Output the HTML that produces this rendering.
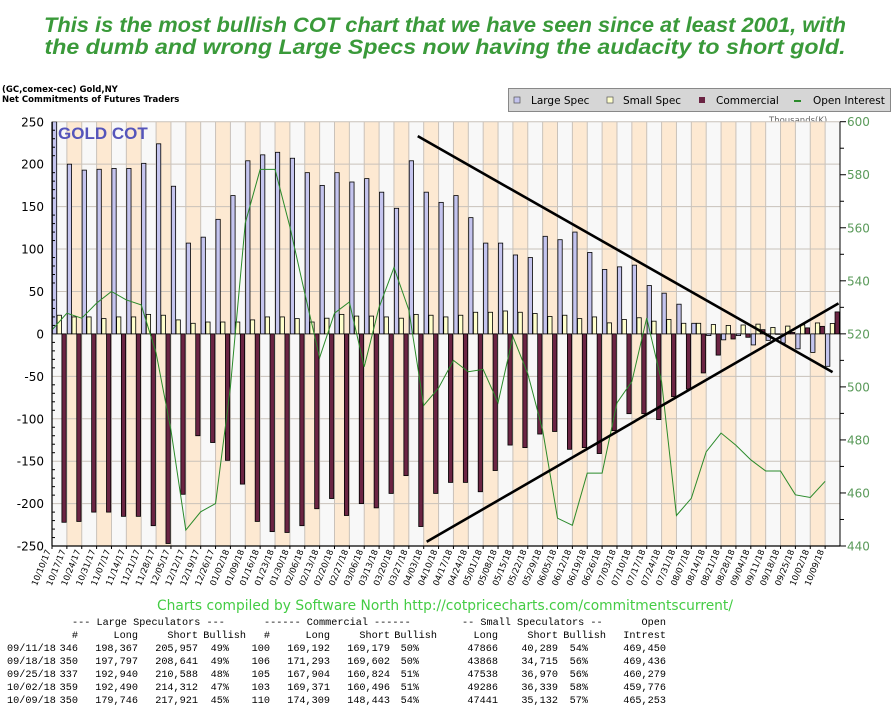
<!DOCTYPE html>
<html><head><meta charset="utf-8"><style>
body{margin:0;background:#fff;width:893px;height:719px;overflow:hidden;font-family:"Liberation Sans",sans-serif}
.t{position:absolute;font-family:"Liberation Mono",monospace;font-size:10.2px;color:#000;white-space:pre;line-height:12px}
</style></head><body>
<svg id="c" width="893" height="719" xmlns="http://www.w3.org/2000/svg" style="position:absolute;left:0;top:0">
<text x="445" y="32" text-anchor="middle" font-family="Liberation Sans, sans-serif" font-style="italic" font-weight="bold" font-size="21" fill="#3a9a3a" textLength="802" lengthAdjust="spacingAndGlyphs">This is the most bullish COT chart that we have seen since at least 2001, with</text>
<text x="445" y="54" text-anchor="middle" font-family="Liberation Sans, sans-serif" font-style="italic" font-weight="bold" font-size="21" fill="#3a9a3a" textLength="801" lengthAdjust="spacingAndGlyphs">the dumb and wrong Large Specs now having the audacity to short gold.</text>
<text x="2" y="92" font-family="DejaVu Sans, sans-serif" font-weight="bold" font-size="8.5">(GC,comex-cec) Gold,NY</text>
<text x="2" y="102" font-family="DejaVu Sans, sans-serif" font-weight="bold" font-size="8.5">Net Commitments of Futures Traders</text>
<g>
<rect x="508.5" y="88.5" width="382" height="23" fill="#d6d6d6" stroke="#888"/>
<rect x="514" y="97" width="6" height="6" fill="#c4c4ee" stroke="#555" stroke-width="0.7"/>
<text x="531" y="104" font-family="DejaVu Sans, sans-serif" font-size="10.5">Large Spec</text>
<rect x="607" y="97" width="6" height="6" fill="#ffffcc" stroke="#555" stroke-width="0.7"/>
<text x="623" y="104" font-family="DejaVu Sans, sans-serif" font-size="10.5">Small Spec</text>
<rect x="699" y="97" width="6" height="6" fill="#6b2443"/>
<text x="716" y="104" font-family="DejaVu Sans, sans-serif" font-size="10.5">Commercial</text>
<rect x="794" y="100" width="7" height="2" fill="#2a8a2a"/>
<text x="813" y="104" font-family="DejaVu Sans, sans-serif" font-size="10.5">Open Interest</text>
</g>
<text x="769" y="123" font-family="DejaVu Sans, sans-serif" font-size="8.5" fill="#666">Thousands(K)</text>
<g id="plot"></g>
<text x="445" y="610" text-anchor="middle" font-family="DejaVu Sans, sans-serif" font-size="14" fill="#44cc44" textLength="576" lengthAdjust="spacingAndGlyphs">Charts compiled by Software North  http://cotpricecharts.com/commitmentscurrent/</text>
</svg>
<div id="tbl"></div>
<script>
const dates=["10/10/17","10/17/17","10/24/17","10/31/17","11/07/17","11/14/17","11/21/17","11/28/17","12/05/17","12/12/17","12/19/17","12/26/17","01/02/18","01/09/18","01/16/18","01/23/18","01/30/18","02/06/18","02/13/18","02/20/18","02/27/18","03/06/18","03/13/18","03/20/18","03/27/18","04/03/18","04/10/18","04/17/18","04/24/18","05/01/18","05/08/18","05/15/18","05/22/18","05/29/18","06/05/18","06/12/18","06/19/18","06/26/18","07/03/18","07/10/18","07/17/18","07/24/18","07/31/18","08/07/18","08/14/18","08/21/18","08/28/18","09/04/18","09/11/18","09/18/18","09/25/18","10/02/18","10/09/18"];
const largeSpec=[250,200,193,194,195,195,201,224,174,107,114,135,163,204,211,214,207,190,175,190,179,183,167,148,204,167,155,163,137,107,107,93,90,115,111,120,96,76,79,81,57,48,35,12.5,-2,-7,-2,-13,-7.6,-10.8,-17.6,-21.8,-38.2];
const smallSpec=[22,20,20,18,20,20,23,22,16.5,12.5,14,14,14,16.5,20,20,18,14,18.5,23,21,21,20,18.5,23,22,20,22,25.5,25.5,27,25.5,24,20.5,22,18,20,13,17,19,15,17,12.5,12.5,11,10,10.5,11.5,7.6,9.2,10.6,12.9,12.3];
const commercial=[-222,-221,-210,-210,-215,-215,-226,-247,-189,-120,-128,-149,-177,-221,-233,-234,-226,-206,-194,-214,-200,-205,-188,-167,-227,-188,-175,-175,-186,-161,-131,-134,-118,-115,-136,-134,-141,-114,-94,-94,-101,-74,-65,-46,-25,-6,-4,5,0.1,1.7,7.1,8.9,25.9];
const openInterest=[521.5,527.8,525.9,531.6,536,532.8,530.9,512.8,483.7,446,452.9,456,500,561.8,582,582,560.4,535.3,511,527.8,532,507.6,530,545,529,493,499.6,510,505.7,506.6,494,519,505,483.7,450.5,447.8,467.5,467.5,494,502,526,502,451.5,458,475.5,482.6,478,472.5,468.3,468.3,459.3,458.3,464.4];
const leftTicks=[250,200,150,100,50,0,-50,-100,-150,-200,-250];
const rightTicks=[600,580,560,540,520,500,480,460,440];
const trend1=[[24.6,233],[52.5,-45]];
const trend2=[[25.2,-245],[52.9,36]];

const NS="http://www.w3.org/2000/svg";
const L=52,R=840,T=121.7,B=546;
const BW=(R-L)/dates.length;
const xs=i=>L+i*BW;
const yL=v=>333.9-v*(B-T)/500;
const yR=v=>B-(v-440)*(B-T)/160;
const plot=document.getElementById('plot');
function mk(tag,at,parent){const e=document.createElementNS(NS,tag);for(const k in at)e.setAttribute(k,at[k]);(parent||plot).appendChild(e);return e;}
const defs=mk('defs',{});const cp=mk('clipPath',{id:'pc'},defs);mk('rect',{x:L,y:T,width:R-L,height:B-T},cp);
const bg=mk('g',{});


dates.forEach((d,i)=>{
 const r=mk('rect',{x:xs(i),y:T,width:BW,height:B-T,fill:i%2?'#fde9d2':'#f8f8f8'},bg);
 
 
 mk('line',{x1:xs(i),x2:xs(i),y1:T,y2:B,stroke:'#c9c2ba','stroke-width':1},bg);
});
leftTicks.forEach(v=>{mk('line',{x1:L,x2:R,y1:yL(v),y2:yL(v),stroke:'#c9c2ba','stroke-width':1},bg);});
const bars=mk('g',{'clip-path':'url(#pc)'});
function bar(i,v,off,fill,name){
 const y0=yL(0),y1=yL(v);
 const r=mk('rect',{x:xs(i)+off,y:Math.min(y0,y1),width:4.3,height:Math.max(0.5,Math.abs(y1-y0)),fill:fill,stroke:'#000','stroke-width':0.8},bars);
 
 
}
dates.forEach((d,i)=>{
 bar(i,largeSpec[i],0.4,'#c4c4ee','bar-large-spec');
 bar(i,smallSpec[i],5.1,'#ffffcc','bar-small-spec');
 bar(i,commercial[i],9.9,'#6b2443','bar-commercial');
});
const oi=mk('polyline',{points:openInterest.map((v,i)=>xs(i)+','+yR(v)).join(' '),fill:'none',stroke:'#2a8a2a','stroke-width':1,'clip-path':'url(#pc)'});


[trend1,trend2].forEach((t,k)=>{
 const l=mk('line',{x1:xs(t[0][0]),y1:yL(t[0][1]),x2:xs(t[1][0]),y2:yL(t[1][1]),stroke:'#000','stroke-width':2.6});
 
 
});
const gc=mk('text',{x:58,y:139,'font-family':'Liberation Sans, sans-serif','font-weight':'bold','font-size':17,fill:'#5555bb'});
gc.textContent='GOLD COT';


// axes
mk('line',{x1:L,x2:L,y1:T,y2:B,stroke:'#000','stroke-width':1.2});
mk('line',{x1:L,x2:R,y1:B,y2:B,stroke:'#000','stroke-width':1.2});
mk('line',{x1:R,x2:R,y1:T,y2:B,stroke:'#000','stroke-width':1});
for(let v=-250;v<=250;v+=10){mk('line',{x1:L,x2:L+(v%50?3:0),y1:yL(v),y2:yL(v),stroke:'#000','stroke-width':1});}
leftTicks.forEach(v=>{
 const t=mk('text',{x:44,y:yL(v)+4.5,'text-anchor':'end','font-family':'DejaVu Sans, sans-serif','font-size':12});
 t.textContent=v;
 
 
});
for(let v=440;v<=600;v+=10){mk('line',{x1:R,x2:R+(v%20?4:6),y1:yR(v),y2:yR(v),stroke:'#000','stroke-width':1});}
rightTicks.forEach(v=>{
 const t=mk('text',{x:847,y:yR(v)+4.5,'font-family':'DejaVu Sans, sans-serif','font-size':12,fill:'#5a9a5a'});
 t.textContent=v;
 
 
});
dates.forEach((d,i)=>{
 mk('line',{x1:xs(i),x2:xs(i),y1:B,y2:B+3,stroke:'#000','stroke-width':1});
 const t=mk('text',{x:xs(i)-1,y:B+5,'text-anchor':'end','font-family':'DejaVu Sans, sans-serif','font-size':8.5,transform:`rotate(-68 ${xs(i)-1} ${B+5})`});
 t.textContent=d;
 
 
});
// table
const tbl=document.getElementById('tbl');
function put(txt,x,y,anchor){
 const e=document.createElement('div');e.className='t';e.textContent=txt;
 e.style.top=(y-6)+'px';
 if(anchor==='r'){e.style.right=(893-x)+'px';}else{e.style.left=x+'px';}
 
 
 tbl.appendChild(e);
}
put('--- Large Speculators ---',72,624);put('------ Commercial ------',264,624);put('-- Small Speculators --',462,624);put('Open',666,624,'r');
[['#',78],['Long',138],['Short',198],['Bullish',246],['#',270],['Long',330],['Short',390],['Bullish',437],['Long',498],['Short',558],['Bullish',606],['Intrest',666]].forEach(h=>put(h[0],h[1],637,'r'));
const rows=[["09/11/18","346","198,367","205,957","49%","100","169,192","169,179","50%","47866","40,289","54%","469,450"],
["09/18/18","350","197,797","208,641","49%","106","171,293","169,602","50%","43868","34,715","56%","469,436"],
["09/25/18","337","192,940","210,588","48%","105","167,904","160,824","51%","47538","36,970","56%","460,279"],
["10/02/18","359","192,490","214,312","47%","103","169,371","160,496","51%","49286","36,339","58%","459,776"],
["10/09/18","350","179,746","217,921","45%","110","174,309","148,443","54%","47441","35,132","57%","465,253"]];
const rx=[78,138,198,229,270,330,390,419,498,558,588,666];
rows.forEach((r,k)=>{const y=650+k*13;put(r[0],7,y);for(let j=1;j<r.length;j++)put(r[j],rx[j-1],y,'r');});
</script>
</body></html>
